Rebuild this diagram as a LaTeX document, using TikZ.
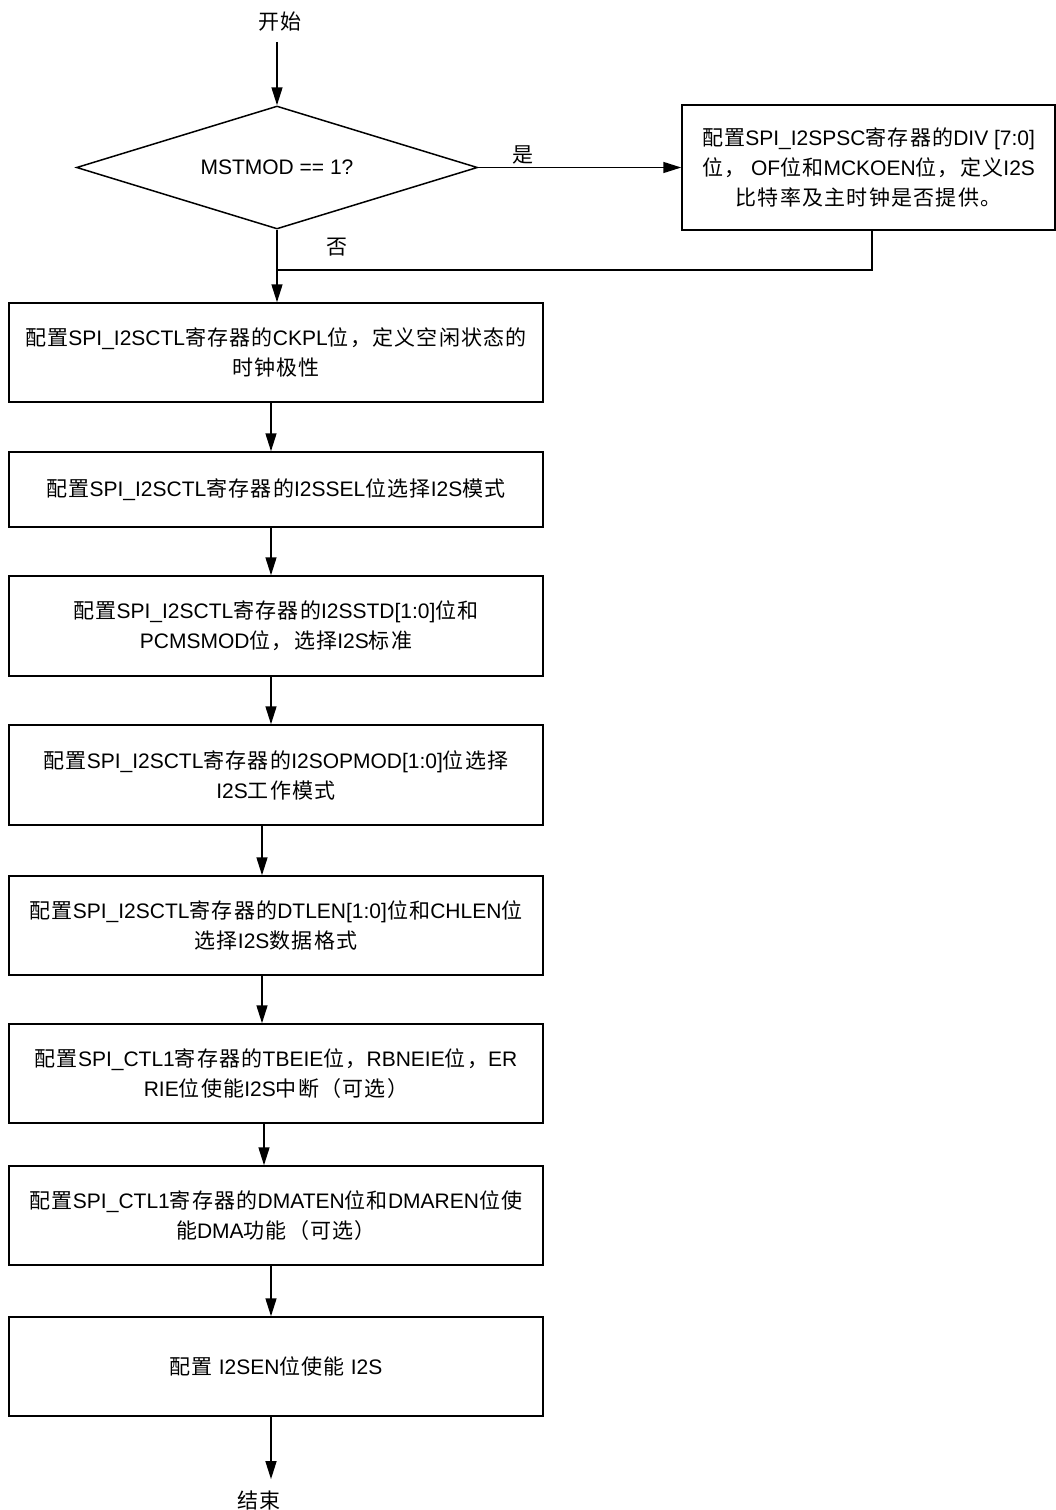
\documentclass[tikz,border=0pt]{standalone}
\usepackage{fontspec}
\setmainfont{Liberation Sans}
\newfontfamily\cjk[LetterSpace=6]{Noto Sans CJK SC}
% switch to the CJK family for Chinese characters automatically
\XeTeXinterchartokenstate=1
\newXeTeXintercharclass\cjkclass
\newcount\cjkc
\cjkc="4E00
\loop\ifnum\cjkc<"A000 \XeTeXcharclass\cjkc=\cjkclass \advance\cjkc by 1 \repeat
\cjkc="3000
\loop\ifnum\cjkc<"3040 \XeTeXcharclass\cjkc=\cjkclass \advance\cjkc by 1 \repeat
\cjkc="FF00
\loop\ifnum\cjkc<"FFF0 \XeTeXcharclass\cjkc=\cjkclass \advance\cjkc by 1 \repeat
\XeTeXinterchartoks 0 \cjkclass = {\cjk}
\XeTeXinterchartoks 4095 \cjkclass = {\cjk}
\XeTeXinterchartoks \cjkclass 0 = {\rmfamily}
\XeTeXinterchartoks \cjkclass 4095 = {\rmfamily}
\usepackage{tikz}
\usetikzlibrary{shapes.geometric, arrows.meta, positioning}

\begin{document}
\begin{tikzpicture}[
    x=1pt, y=-1pt,
    font={\fontsize{21}{30}\selectfont},
    stepbox/.style={rectangle, draw, line width=1.5pt, minimum width=534pt, minimum height=100pt, align=center, inner sep=0pt},
    dec/.style={diamond, draw, line width=1.5pt, minimum width=401pt, minimum height=123pt, aspect=3.26, inner sep=0pt},
    lbl/.style={inner sep=0pt},
    line/.style={line width=1.5pt},
    arr/.style={-{Triangle[length=18pt, width=11pt]}, line width=1.5pt}
]
\useasboundingbox (0,0) rectangle (1056,1510);

\node[lbl, inner sep=10pt] (start) at (280,22) {开始};
\node[dec] (msel) at (277,167.5) {MSTMOD == 1?};
\node[stepbox, minimum width=373pt, minimum height=125pt] (psc) at (868.5,167.5)
    {配置SPI\_I2SPSC寄存器的DIV [7:0]\\位， OF位和MCKOEN位，定义I2S\\比特率及主时钟是否提供。};
\node[lbl] (yes) at (523,155) {是};
\node[lbl] (no) at (337,247) {否};

\node[stepbox, minimum height=99pt] (ckpl) at (276,352.5)
    {配置SPI\_I2SCTL寄存器的CKPL位，定义空闲状态的\\时钟极性};
\node[stepbox, minimum height=75pt] (sel) at (276,489.5)
    {配置SPI\_I2SCTL寄存器的I2SSEL位选择I2S模式};
\node[stepbox] (std) at (276,626)
    {配置SPI\_I2SCTL寄存器的I2SSTD[1:0]位和\\PCMSMOD位，选择I2S标准};
\node[stepbox] (opmod) at (276,775)
    {配置SPI\_I2SCTL寄存器的I2SOPMOD[1:0]位选择\\I2S工作模式};
\node[stepbox, minimum height=99pt] (dtlen) at (276,925.5)
    {配置SPI\_I2SCTL寄存器的DTLEN[1:0]位和CHLEN位\\选择I2S数据格式};
\node[stepbox, minimum height=99pt] (inten) at (276,1073.5)
    {配置SPI\_CTL1寄存器的TBEIE位，RBNEIE位，ER\\RIE位使能I2S中断（可选）};
\node[stepbox, minimum height=99pt] (dmaen) at (276,1215.5)
    {配置SPI\_CTL1寄存器的DMATEN位和DMAREN位使\\能DMA功能（可选）};
\node[stepbox, minimum height=99pt] (i2sen) at (276,1366.5)
    {配置 I2SEN位使能 I2S};
\node[lbl, inner sep=11pt] (fin) at (259,1500) {结束};

\coordinate (join) at (277,270);

% decision
\draw[arr] (msel.north |- start.south) -- (msel.north);
\draw[arr] (msel.east) -- (psc.west);
\draw[line] ([xshift=3.5pt]psc.south) |- (join);
\draw[arr] (msel.south) -- (msel.south |- ckpl.north);

% steps
\foreach \a/\b/\x in {ckpl/sel/271, sel/std/271, std/opmod/271, opmod/dtlen/262, dtlen/inten/262, inten/dmaen/264, dmaen/i2sen/271} {
    \draw[arr] (\x,0 |- \a.south) -- (\x,0 |- \b.north);
}
\draw[arr] (271,0 |- i2sen.south) -- (271,0 |- fin.north);
\end{tikzpicture}
\end{document}
